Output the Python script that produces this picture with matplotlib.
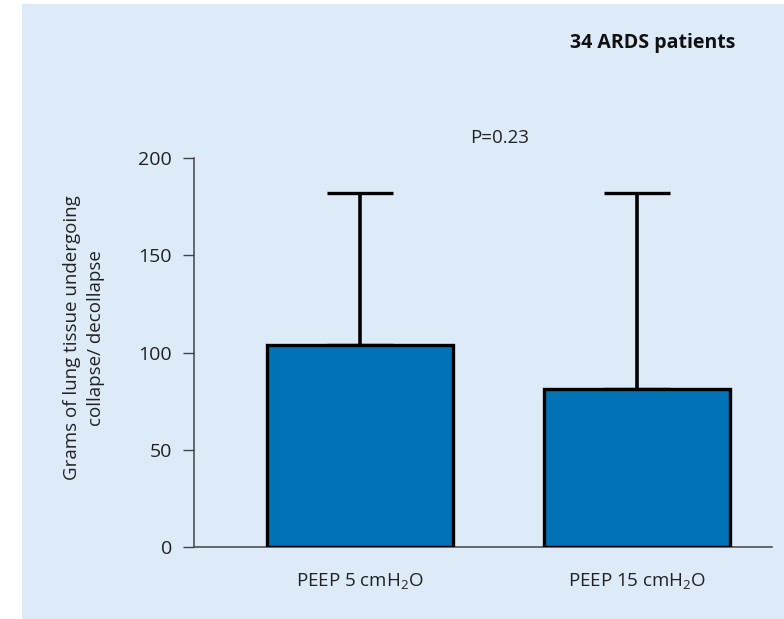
import matplotlib.pyplot as plt
from matplotlib.patches import Rectangle

# Mean and upper SD of tissue undergoing collapse/decollapse
groups = ['PEEP 5 cmH$_2$O', 'PEEP 15 cmH$_2$O']
means = [104, 81]
sd = [78, 101]

plt.rcParams['font.family'] = ['Open Sans', 'DejaVu Sans']
plt.rcParams['mathtext.fontset'] = 'custom'
plt.rcParams['mathtext.rm'] = 'Open Sans'

bg = '#ddeaf7'
fig = plt.figure(figsize=(7.84, 6.19), dpi=100)
fig.patches.append(Rectangle((22 / 784, 0), 1, 1 - 4 / 619, transform=fig.transFigure,
                             facecolor=bg, edgecolor='none', zorder=-10))

ax = fig.add_axes([194 / 784, 72 / 619, (772 - 194) / 784, 389 / 619])
ax.set_facecolor('none')

x = [0, 1]
ax.bar(x, means, width=0.67, color='#0072b5', edgecolor='black', linewidth=2.4, zorder=3)
ax.errorbar(x, means, yerr=[[0, 0], sd], fmt='none', ecolor='black',
            elinewidth=2.6, capsize=24, capthick=2.4, zorder=2)

ax.set_xlim(-0.598, 1.485)
ax.set_ylim(0, 200)
ax.set_yticks([0, 50, 100, 150, 200])
ax.set_xticks(x)
ax.set_xticklabels(groups, fontsize=13.5, color='#222222')
ax.tick_params(axis='x', length=0, pad=18)
ax.tick_params(axis='y', length=8, width=1, color='#444444', labelsize=14,
               labelcolor='#222222', pad=8)

for side in ['top', 'right']:
    ax.spines[side].set_visible(False)
ax.spines['left'].set_color('#444444')
ax.spines['bottom'].set_color('#444444')
ax.spines['left'].set_linewidth(1.1)
ax.spines['bottom'].set_linewidth(1.1)

fig.text(84 / 784, 1 - 338 / 619, 'Grams of lung tissue undergoing\ncollapse/ decollapse',
         rotation=90, ha='center', va='center', fontsize=13.5, color='#222222',
         linespacing=1.4)
fig.text(500 / 784, 1 - 138 / 619, 'P=0.23', ha='center', va='center',
         fontsize=13.5, color='#222222')
fig.text(653 / 784, 1 - 43 / 619, '34 ARDS patients', ha='center', va='center',
         fontsize=14, fontweight='bold', color='#111111')

fig.savefig('out.png', dpi=100, facecolor='white')
